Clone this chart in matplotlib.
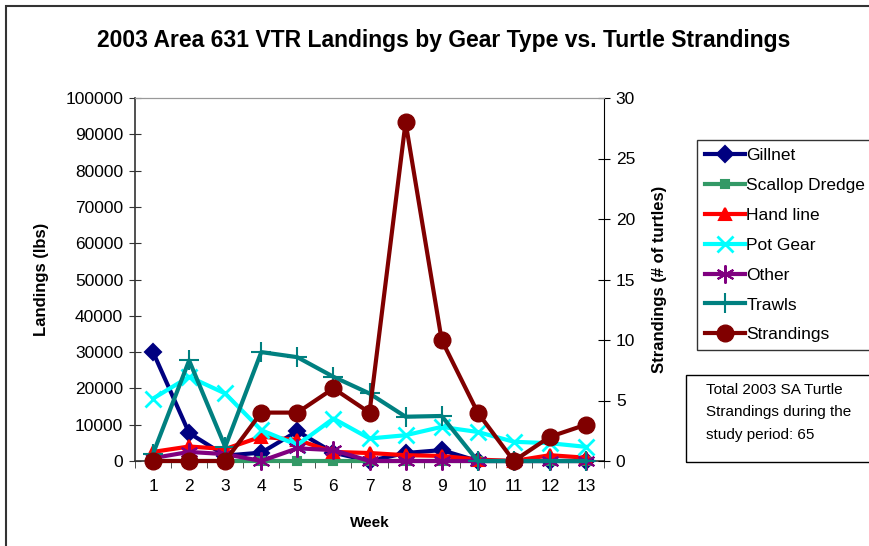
import matplotlib
matplotlib.use("Agg")
import matplotlib.pyplot as plt
from matplotlib.patches import Rectangle

plt.rcParams['font.family'] = ['Liberation Sans', 'DejaVu Sans']

weeks = [1, 2, 3, 4, 5, 6, 7, 8, 9, 10, 11, 12, 13]
gillnet = [30000, 7700, 1500, 2300, 8200, 2300, 0, 2200, 3000, 0, 0, 0, 0]
scallop_dredge = [0, 0, 0, 0, 0, 0, 0, 0, 0, 0, 0, 0, 0]
hand_line = [2500, 4000, 3300, 6700, 5800, 2500, 2200, 1600, 1400, 400, 0, 1600, 900]
pot_gear = [17200, 23200, 18600, 8500, 4400, 11700, 6200, 7100, 9400, 8000, 5300, 4900, 3900]
other = [800, 2500, 1900, 0, 3500, 3000, 0, 0, 0, 0, 0, 0, 0]
trawls = [2000, 27700, 3900, 30000, 28600, 23200, 18600, 12200, 12400, 0, 0, 0, 0]
strandings = [0, 0, 0, 4, 4, 6, 4, 28, 10, 4, 0, 2, 3]

left_ticks = [0, 10000, 20000, 30000, 40000, 50000, 60000, 70000, 80000, 90000, 100000]
right_ticks = [0, 5, 10, 15, 20, 25, 30]

W, H = 869, 546
fig = plt.figure(figsize=(W / 100, H / 100), dpi=100)

# outer frame
fig.patches.append(Rectangle((6 / W, -0.1), 1.2, 1 - 6 / H + 0.1, transform=fig.transFigure,
                             fill=False, edgecolor='#333333', linewidth=1.5))

ax = fig.add_axes([135 / W, 1 - 461 / H, (604 - 135) / W, (461 - 98) / H])
ax2 = ax.twinx()

series = [
    ("Gillnet", gillnet, '#000080', 'D', 8, 1.5),
    ("Scallop Dredge", scallop_dredge, '#339966', 's', 6, 1.5),
    ("Hand line", hand_line, '#FF0000', '^', 8, 1.5),
    ("Pot Gear", pot_gear, '#00FFFF', 'x', 11, 2.0),
    ("Other", other, '#800080', (6, 2, 0), 13, 1.5),
    ("Trawls", trawls, '#008080', '+', 15, 1.5),
]
handles = []
for name, vals, col, mk, ms, mew in series:
    h, = ax.plot(weeks, vals, color=col, lw=3, marker=mk, markersize=ms,
                 markeredgewidth=mew, markeredgecolor=col, markerfacecolor=col, label=name,
                 clip_on=False, zorder=3)
    handles.append(h)

hs, = ax2.plot(weeks, strandings, color='#800000', lw=3, marker='o', markersize=12,
               markerfacecolor='#800000', markeredgecolor='#800000', label="Strandings",
               clip_on=False, zorder=4)
handles.append(hs)

ax.set_xlim(0.5, 13.5)
ax.set_ylim(0, 100000)
ax2.set_ylim(0, 30)
ax.set_yticks(left_ticks)
ax.set_yticklabels([str(t) for t in left_ticks])
ax2.set_yticks(right_ticks)
ax.set_xticks(weeks)
ax.set_xticks([w + 0.5 for w in [0] + weeks], minor=True)
ax.tick_params(axis='x', which='major', length=0, labelsize=12.5, pad=13)
ax.tick_params(axis='x', which='minor', length=5, direction='out', color='#333333')
ax.tick_params(axis='y', which='major', direction='inout', length=9, labelsize=12.5, pad=4, color='#333333')
ax2.tick_params(axis='y', which='major', direction='inout', length=9, labelsize=12.5, pad=4)

for s in ['left', 'bottom']:
    ax.spines[s].set_color('#333333')
    ax.spines[s].set_linewidth(1.2)
ax.spines['top'].set_color('#999999')
ax2.spines['top'].set_color('#999999')
ax2.spines['right'].set_color('black')
ax.spines['right'].set_visible(False)
ax2.spines['left'].set_visible(False)
ax2.spines['bottom'].set_visible(False)

ax.set_xlabel("Week", fontsize=11, fontweight='bold', labelpad=16)
ax.set_ylabel("Landings (lbs)", fontsize=12, fontweight='bold', labelpad=12)
ax2.set_ylabel("Strandings (# of turtles)", fontsize=12, fontweight='bold', labelpad=12)

fig.text(444 / W, 1 - 40 / H, "2003 Area 631 VTR Landings by Gear Type vs. Turtle Strandings",
         ha='center', va='center', fontsize=16.5, fontweight='bold')

leg = fig.legend(handles=handles, loc='upper left', bbox_to_anchor=(697 / W, 1 - 140 / H),
                 fontsize=12.5, frameon=True, fancybox=False, edgecolor='black',
                 borderpad=0.45, labelspacing=0.85, handlelength=2.3, handletextpad=0.1,
                 borderaxespad=0)
leg.get_frame().set_linewidth(1.0)

# text box
fig.patches.append(Rectangle((686 / W, 1 - 462 / H), 0.3, (462 - 375) / H,
                             transform=fig.transFigure, fill=False, edgecolor='black', linewidth=1.0))
fig.text(706 / W, 1 - 383 / H, "Total 2003 SA Turtle\nStrandings during the\nstudy period: 65",
         ha='left', va='top', fontsize=11, linespacing=1.75)

fig.savefig("out.png", dpi=100)
